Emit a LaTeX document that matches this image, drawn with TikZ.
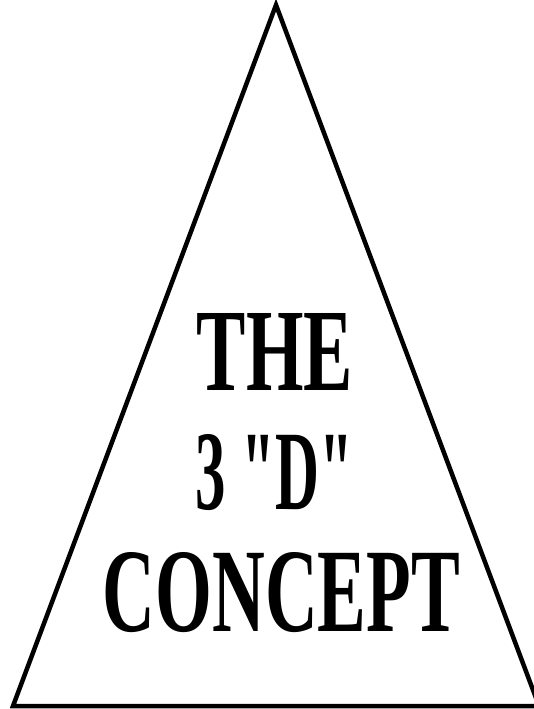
\documentclass[tikz,border=0pt]{standalone}
\usepackage{fontspec}
\setmainfont{Liberation Serif}
\newfontfamily\plainserif{Liberation Serif}
\usepackage{graphicx}
\tikzset{
  tri/.style={draw=black, line width=4.5pt, line join=miter, fill=white},
  word/.style={inner sep=0pt, outer sep=0pt, font=\plainserif\bfseries}
}
\begin{document}
\begin{tikzpicture}[x=1pt,y=-1pt]
\useasboundingbox (0,0) rectangle (534,709);
\fill[white] (0,0) rectangle (534,709);
\begin{scope}
\clip (0,0) rectangle (534,709);
\coordinate (apex) at (276,5);
\coordinate (bl) at (13,706);
\coordinate (br) at (539,706);
\draw[tri] (apex) -- (bl) -- (br) -- cycle;
\end{scope}
\node[word] (the) at (275,351.5) {\resizebox{156pt}{77pt}{THE}};
\node[word] (three) at (274.5,472.5) {\resizebox{157pt}{75pt}{3 "D"}};
\node[word] (concept) at (281.5,592.5) {\resizebox{357pt}{79pt}{CONCEPT}};
\end{tikzpicture}
\end{document}
